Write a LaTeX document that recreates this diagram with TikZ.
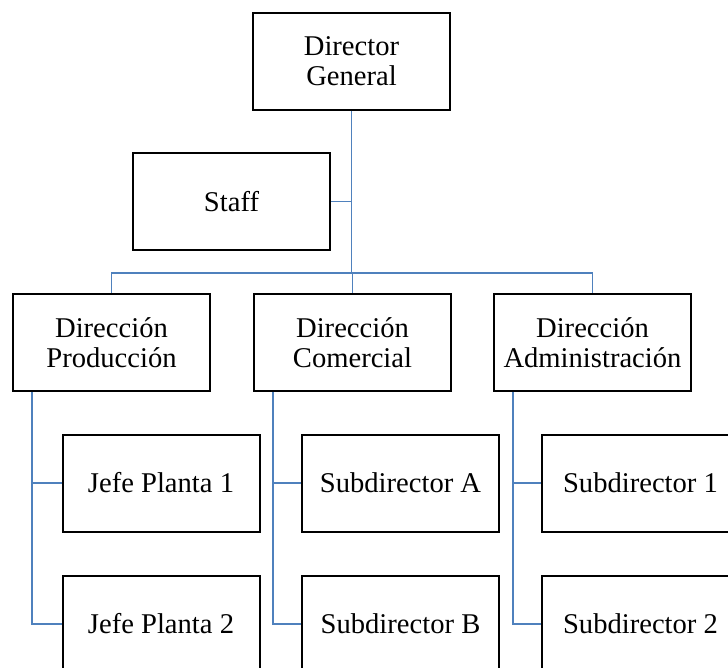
\documentclass[tikz,border=0pt]{standalone}
\usepackage{fontspec}
\setmainfont{Liberation Serif}
\definecolor{linkblue}{RGB}{79,129,189}
\begin{document}
\begin{tikzpicture}[x=1pt,y=-1pt,
    box/.style={draw=black,line width=2pt,fill=white,minimum width=197pt,
      minimum height=97pt,align=center,inner sep=0pt,
      font=\fontsize{28.6}{30}\selectfont},
    link/.style={draw=linkblue,line width=1.1pt}]
  \useasboundingbox (0,0) rectangle (728,668);
  \node[box] (dg) at (351.5,61.5) {Director\\General};
  \node[box] (staff) at (231.5,201.5) {Staff};
  \node[box] (prod) at (111.5,342.5) {Dirección\\Producción};
  \node[box] (com) at (352.5,342.5) {Dirección\\Comercial};
  \node[box] (adm) at (592.5,342.5) {Dirección\\Administración};
  \node[box] (jp1) at (161,483) {Jefe Planta 1};
  \node[box] (jp2) at (161,624) {Jefe Planta 2};
  \node[box] (suba) at (400.5,483) {Subdirector A};
  \node[box] (subb) at (400.5,624) {Subdirector B};
  \node[box] (sub1) at (640.5,483) {Subdirector 1};
  \node[box] (sub2) at (640.5,624) {Subdirector 2};
  \coordinate (bus) at (351.5,273);
  \begin{scope}[link]
    \draw (dg.south) -- (bus);
    \draw (staff.east) -- (staff.east -| dg.south);
    \draw (prod.north) |- (bus) -| (adm.north);
    \draw (com.north) -- (com.north |- bus);
    \draw ([xshift=20pt]prod.south west) |- (jp1.west);
    \draw ([xshift=20pt]prod.south west) |- (jp2.west);
    \draw ([xshift=20pt]com.south west) |- (suba.west);
    \draw ([xshift=20pt]com.south west) |- (subb.west);
    \draw ([xshift=20pt]adm.south west) |- (sub1.west);
    \draw ([xshift=20pt]adm.south west) |- (sub2.west);
  \end{scope}
\end{tikzpicture}
\end{document}
